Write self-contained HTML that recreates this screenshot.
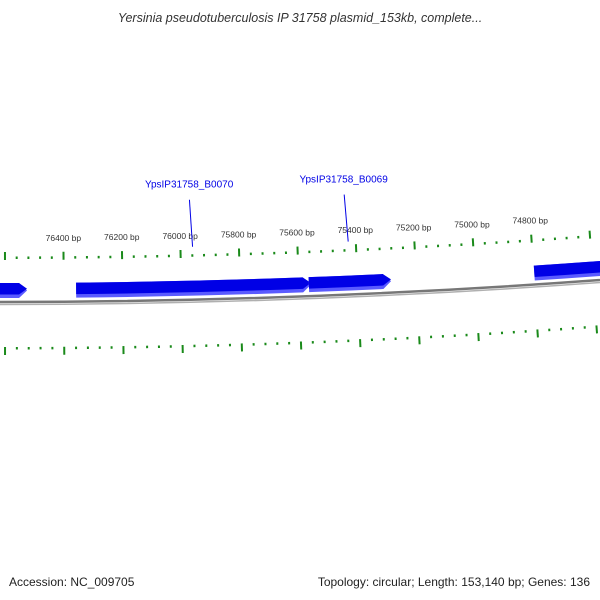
<!DOCTYPE html>
<html><head><meta charset="utf-8">
<style>
html,body{margin:0;padding:0;background:#fff;}
svg{display:block;font-family:"Liberation Sans","DejaVu Sans",sans-serif;}
</style></head>
<body>
<svg id="chart" width="600" height="600" viewBox="0 0 600 600">
<text x="300" y="22" text-anchor="middle" font-size="12.5" font-style="italic" fill="#333">Yersinia pseudotuberculosis IP 31758 plasmid_153kb, complete...</text>
<g id="plot"></g>
<text x="9" y="586" font-size="12" fill="#222">Accession: NC_009705</text>
<text x="590" y="586" text-anchor="end" font-size="12" fill="#222">Topology: circular; Length: 153,140 bp; Genes: 136</text>
</svg>
<script>
const tickStart = 74560;
const tickEnd = 76680;
const tickStep = 40;
const majorStep = 200;
const tickLabels = [74800, 75000, 75200, 75400, 75600, 75800, 76000, 76200, 76400];
const geneStarts = [76800, 76358, 75566, 74798];
const geneEnds = [76525, 75559, 75286, 74300];
const geneNames = ["", "YpsIP31758_B0070", "YpsIP31758_B0069", ""];

const NS = "http://www.w3.org/2000/svg";
const CX = 0, CY = -7897, B0 = 76617, K = 3.59e-5;
const R_BACK = 8200, R_OUT = 8155, R_IN = 8245, R_GTOP = 8180, R_GBOT = 8195;
const plot = document.getElementById('plot');
function ang(bp){ return (B0 - bp) * K; }
function pt(bp, r){ const t = ang(bp); return [CX + r*Math.sin(t), CY + r*Math.cos(t)]; }
function mk(tag, attrs){ const e = document.createElementNS(NS, tag); for (const k in attrs) e.setAttribute(k, attrs[k]); plot.appendChild(e); return e; }
function arc(b1, b2, r){ const p1 = pt(b1, r), p2 = pt(b2, r); const sweep = b1 > b2 ? 0 : 1; return `M${p1[0]},${p1[1]} A${r},${r} 0 0 ${sweep} ${p2[0]},${p2[1]}`; }

// backbone
let bb1 = mk('path', {d: arc(77000, 74000, R_BACK - 1), stroke: '#777', 'stroke-width': 2.5, fill: 'none'});


let bb2 = mk('path', {d: arc(77000, 74000, R_BACK + 1.5), stroke: '#b0b0b0', 'stroke-width': 1.5, fill: 'none'});



// ticks
for (let bp = tickStart; bp <= tickEnd; bp += tickStep) {
  const major = bp % majorStep === 0;
  const o1 = pt(bp, major ? R_OUT + 2 : R_OUT + 1), o2 = pt(bp, major ? R_OUT - 6 : R_OUT - 1.5);
  let t1 = mk('line', {x1: o1[0], y1: o1[1], x2: o2[0], y2: o2[1], stroke: '#1a8a1a', 'stroke-width': 2});
  
  
  const i1 = pt(bp, R_IN - 1), i2 = pt(bp, major ? R_IN + 7 : R_IN + 1.5);
  let t2 = mk('line', {x1: i1[0], y1: i1[1], x2: i2[0], y2: i2[1], stroke: '#1a8a1a', 'stroke-width': 2});
  
  
}
tickLabels.forEach(bp => {
  const p = pt(bp, R_OUT - 20);
  let t = mk('text', {x: p[0], y: p[1] + 3, 'text-anchor': 'middle', 'font-size': 8.5, fill: '#333'});
  t.textContent = bp + ' bp';
  
  
});

// genes
function geneShape(s, e, r1, r2){
  const bodyEnd = e + 8 / (R_GTOP * K);
  const a = pt(s, r1), b = pt(bodyEnd, r1), tip = pt(e, (r1 + r2) / 2), c = pt(bodyEnd, r2), d = pt(s, r2);
  return `M${a[0]},${a[1]} A${r1},${r1} 0 0 0 ${b[0]},${b[1]} L${tip[0]},${tip[1]} L${c[0]},${c[1]} A${r2},${r2} 0 0 1 ${d[0]},${d[1]} Z`;
}
geneStarts.forEach((s, i) => {
  const e = geneEnds[i];
  let g = mk('path', {d: geneShape(s, e, R_GTOP, R_GBOT), fill: '#5a5aff'});
  
  
  let g2 = mk('path', {d: geneShape(s, e, R_GTOP, R_GBOT - 3.5), fill: '#0000e6'});
  
  
  if (geneNames[i]) {
    const mid = (s + e) / 2;
    const l1 = pt(mid, 8146), l2 = pt(mid, 8099);
    let ln = mk('line', {x1: l1[0], y1: l1[1], x2: l2[0] - 2, y2: l2[1], stroke: '#0000e6', 'stroke-width': 1});
    
    
    const lp = pt(mid, 8087);
    let lt = mk('text', {x: lp[0] - 2, y: lp[1], 'text-anchor': 'middle', 'font-size': 10, fill: '#0000e6'});
    lt.textContent = geneNames[i];
    
    
  }
});
</script>
</body></html>
